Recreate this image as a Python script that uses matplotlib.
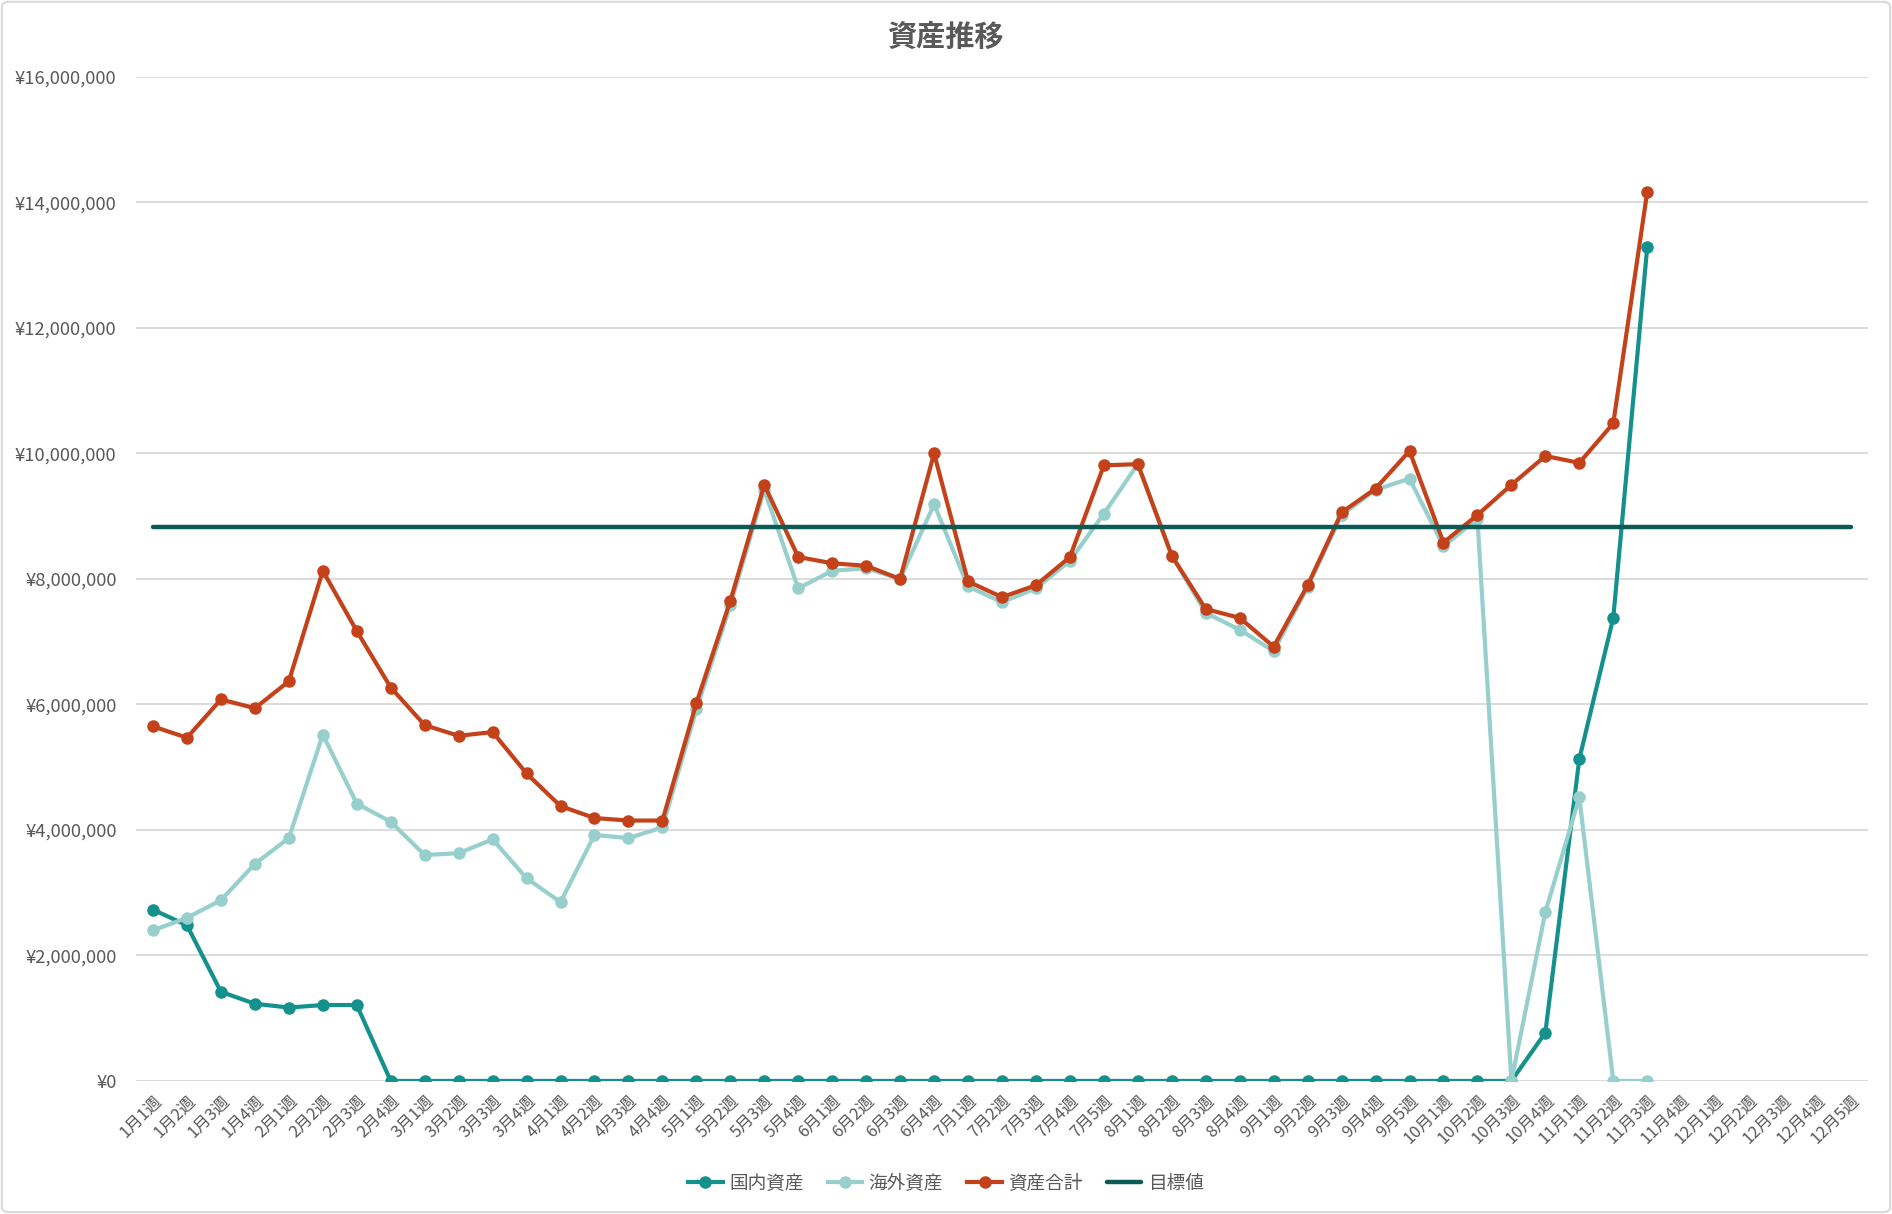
import matplotlib.pyplot as plt
from matplotlib.patches import FancyBboxPatch
from matplotlib.ticker import FuncFormatter

plt.rcParams['font.family'] = ['Noto Sans CJK JP', 'DejaVu Sans']

# --- data ---
weeks = ["1月1週", "1月2週", "1月3週", "1月4週",
         "2月1週", "2月2週", "2月3週", "2月4週",
         "3月1週", "3月2週", "3月3週", "3月4週",
         "4月1週", "4月2週", "4月3週", "4月4週",
         "5月1週", "5月2週", "5月3週", "5月4週",
         "6月1週", "6月2週", "6月3週", "6月4週",
         "7月1週", "7月2週", "7月3週", "7月4週", "7月5週",
         "8月1週", "8月2週", "8月3週", "8月4週",
         "9月1週", "9月2週", "9月3週", "9月4週", "9月5週",
         "10月1週", "10月2週", "10月3週", "10月4週",
         "11月1週", "11月2週", "11月3週", "11月4週",
         "12月1週", "12月2週", "12月3週", "12月4週", "12月5週"]

domestic = [2730000, 2480000, 1420000, 1230000, 1170000, 1210000, 1210000, 0,
            0, 0, 0, 0, 0, 0, 0, 0,
            0, 0, 0, 0, 0, 0, 0, 0,
            0, 0, 0, 0, 0, 0, 0, 0, 0,
            0, 0, 0, 0, 0, 0, 0, 0,
            770000, 5130000, 7380000, 13290000]

foreign = [2400000, 2600000, 2880000, 3460000, 3870000, 5520000, 4420000, 4130000,
           3600000, 3630000, 3850000, 3230000, 2850000, 3920000, 3870000, 4040000,
           5920000, 7580000, 9420000, 7850000, 8130000, 8170000, 8000000, 9190000,
           7880000, 7630000, 7850000, 8290000, 9040000, 9830000, 8370000, 7460000, 7190000,
           6850000, 7870000, 9020000, 9420000, 9600000, 8520000, 8960000, 0,
           2690000, 4520000, 0, 0]

total = [5650000, 5470000, 6080000, 5940000, 6370000, 8130000, 7170000, 6270000,
         5670000, 5500000, 5560000, 4900000, 4380000, 4190000, 4150000, 4150000,
         6020000, 7650000, 9500000, 8350000, 8250000, 8210000, 8000000, 10000000,
         7960000, 7710000, 7900000, 8350000, 9810000, 9830000, 8370000, 7520000, 7380000,
         6920000, 7900000, 9060000, 9440000, 10040000, 8580000, 9020000, 9500000,
         9960000, 9850000, 10480000, 14170000]

target_value = 8830000

c_dom = '#14918D'
c_for = '#97CFCD'
c_tot = '#C4421A'
c_tgt = '#0B5A56'
c_txt = '#595959'

fig = plt.figure(figsize=(18.92, 12.14), dpi=100)
ax = fig.add_axes([0.0719, 0.1096, 0.9154, 0.827])

ax.plot(range(len(domestic)), domestic, color=c_dom, lw=3, marker='o', ms=8, label='国内資産')
ax.plot(range(len(foreign)), foreign, color=c_for, lw=3, marker='o', ms=8, label='海外資産')
ax.plot(range(len(total)), total, color=c_tot, lw=3, marker='o', ms=8, label='資産合計')
ax.plot(range(len(weeks)), [target_value] * len(weeks), color=c_tgt, lw=3.2,
        solid_capstyle='round', label='目標値')

ax.set_xlim(-0.5, len(weeks) - 0.5)
ax.set_ylim(0, 16000000)
ax.set_yticks(range(0, 16000001, 2000000))
ax.yaxis.set_major_formatter(FuncFormatter(lambda v, p: f"¥{int(v):,}"))
ax.set_xticks(range(len(weeks)))
ax.set_xticklabels(weeks, rotation=45, ha='right', rotation_mode='anchor')

ax.tick_params(axis='y', length=0, pad=14, labelsize=13.3, labelcolor=c_txt)
ax.tick_params(axis='x', length=0, pad=8, labelsize=12, labelcolor=c_txt)
ax.grid(axis='y', color='#D9D9D9', lw=1.3)
ax.set_axisbelow(True)
for s in ax.spines.values():
    s.set_visible(False)

fig.text(0.5, 0.970, '資産推移', ha='center', va='center', fontsize=21,
         fontweight='bold', color=c_txt)

fig.legend(loc='center', bbox_to_anchor=(0.5, 0.025), ncol=4, frameon=False,
           fontsize=13.4, handlelength=1.85, handletextpad=0.35, columnspacing=1.3,
           labelcolor=c_txt)

fig.patches.append(FancyBboxPatch((0.001, 0.0015), 0.998, 0.997,
                                  boxstyle='round,pad=0,rounding_size=0.004',
                                  transform=fig.transFigure, fill=False,
                                  edgecolor='#D9D9D9', lw=1.5))

fig.savefig('out.png', dpi=100, facecolor='white')
